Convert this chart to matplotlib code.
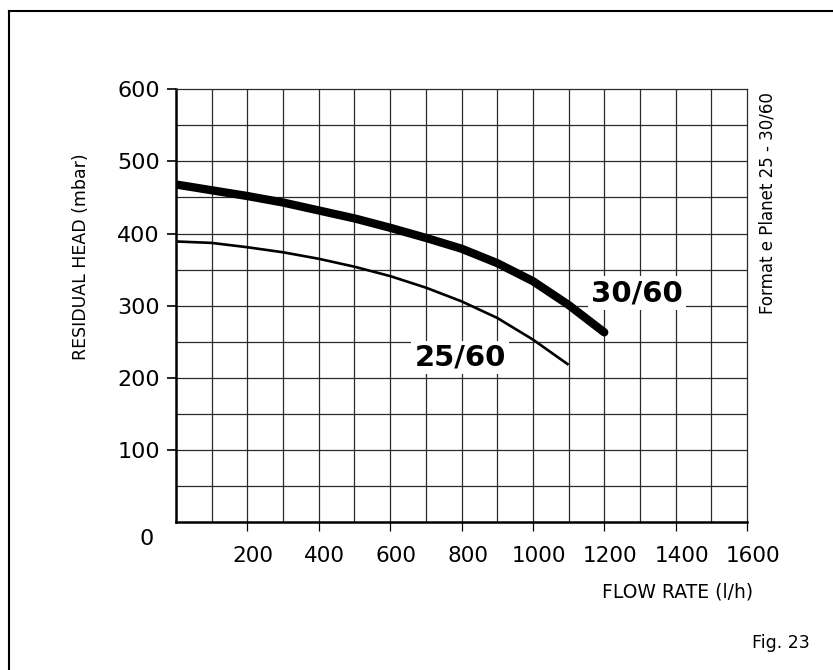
import matplotlib
matplotlib.use("Agg")
import matplotlib.pyplot as plt
from matplotlib.lines import Line2D
from matplotlib.transforms import ScaledTranslation

# Data
flow_30 = [0, 100, 200, 300, 400, 500, 600, 700, 800, 900, 1000, 1100, 1200]
head_30 = [468, 460, 452, 443, 432, 421, 408, 394, 379, 359, 334, 301, 263]
flow_25 = [0, 100, 200, 300, 400, 500, 600, 700, 800, 900, 1000, 1100]
head_25 = [389, 387, 381, 374, 365, 354, 341, 325, 306, 283, 253, 218]
x_ticks = [200, 400, 600, 800, 1000, 1200, 1400, 1600]
y_ticks = [100, 200, 300, 400, 500, 600]

W, H = 833, 670
fig = plt.figure(figsize=(W / 100, H / 100), dpi=100)
ax = fig.add_axes([176 / W, 1 - 522 / H, (747 - 176) / W, (522 - 89.3) / H])

ax.set_xlim(0, 1600)
ax.set_ylim(0, 600)

# grid
for gx in range(100, 1600, 100):
    ax.axvline(gx, color="#2a2a2a", lw=0.9, zorder=1)
for gy in range(50, 600, 50):
    ax.axhline(gy, color="#2a2a2a", lw=0.9, zorder=1)

ax.plot(flow_30, head_30, color="black", lw=6.0, solid_capstyle="round", zorder=3)
ax.plot(flow_25, head_25, color="black", lw=1.9, solid_capstyle="butt", zorder=3)

ax.text(1292, 317, "30/60", fontsize=21, fontweight="bold", ha="center", va="center",
        zorder=4, bbox=dict(facecolor="white", edgecolor="none", pad=2))
ax.text(796, 228, "25/60", fontsize=21, fontweight="bold", ha="center", va="center",
        zorder=4, bbox=dict(facecolor="white", edgecolor="none", pad=2))

ax.set_xticks(x_ticks)
ax.set_xticklabels([str(v) for v in x_ticks])
ax.set_yticks(y_ticks)
ax.set_yticklabels([str(v) for v in y_ticks])
ax.tick_params(axis="x", direction="out", length=6.5, width=0.9, pad=11, labelsize=15.5)
ax.tick_params(axis="y", direction="out", length=6.5, width=1.2, pad=5, labelsize=16)
shift = ScaledTranslation(6 / 100, 0, fig.dpi_scale_trans)
for lab in ax.get_xticklabels():
    lab.set_transform(lab.get_transform() + shift)

for s in ["left", "bottom"]:
    ax.spines[s].set_linewidth(1.8)
for s in ["top", "right"]:
    ax.spines[s].set_linewidth(0.9)
    ax.spines[s].set_color("#2a2a2a")

fig.text(147 / W, 1 - 539 / H, "0", fontsize=16, ha="center", va="center")
fig.text(81 / W, 1 - 257 / H, "RESIDUAL HEAD (mbar)", fontsize=12.5, rotation=90,
         ha="center", va="center")
fig.text(753 / W, 1 - 592 / H, "FLOW RATE (l/h)", fontsize=13.5, ha="right", va="center")
fig.text(767 / W, 1 - 92 / H, "Format e Planet 25 - 30/60", fontsize=12, rotation=90,
         ha="center", va="top")
fig.text(810 / W, 1 - 643 / H, "Fig. 23", fontsize=12.5, ha="right", va="center")

# partial frame (top and left lines)
fig.add_artist(Line2D([9 / W, 1.0], [1 - 11 / H, 1 - 11 / H], color="black", lw=1.5,
                      transform=fig.transFigure))
fig.add_artist(Line2D([9 / W, 9 / W], [0.0, 1 - 11 / H], color="black", lw=1.5,
                      transform=fig.transFigure))

fig.savefig("out.png", dpi=100)
